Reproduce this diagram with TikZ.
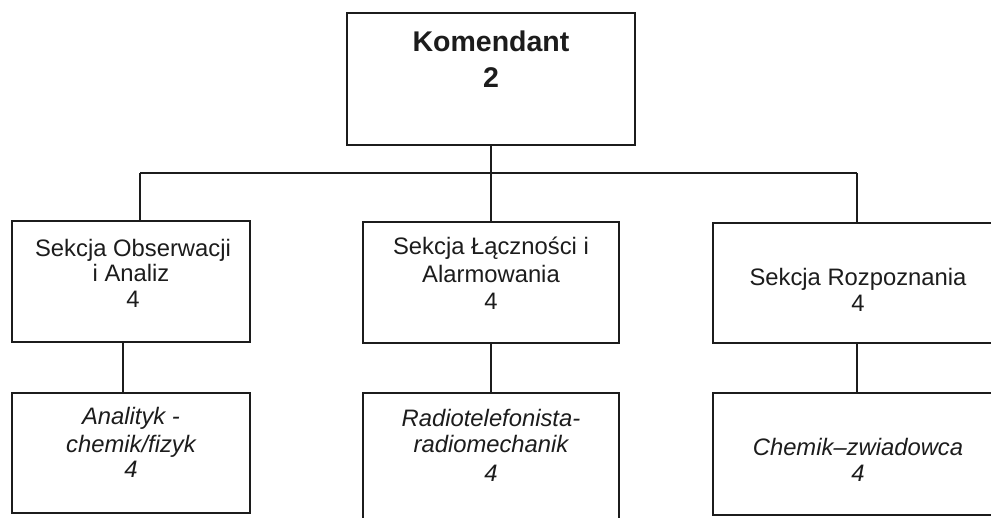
\documentclass[tikz,border=0pt]{standalone}
\usepackage{fontspec}
\setmainfont{Liberation Sans}
\definecolor{ink}{HTML}{1C1C1C}
\begin{document}
\begin{tikzpicture}[x=1pt,y=-1pt,
  box/.style={draw=ink,line width=1.2pt,rectangle,inner sep=0pt},
  line/.style={draw=ink,line width=1.2pt},
  txt/.style={anchor=base,inner sep=0pt,text=ink,font=\fontsize{23.8}{26}\selectfont},
  itxt/.style={txt,font=\fontsize{23.8}{26}\selectfont\itshape},
  btxt/.style={anchor=base,inner sep=0pt,text=ink,font=\fontsize{28.5}{32}\selectfont\bfseries}]
\clip (0,0) rectangle (991,518);
\fill[white] (0,0) rectangle (991,518);
% boxes
\node[box,minimum width=288pt,minimum height=132pt] (kom) at (491,79) {};
\node[box,minimum width=238pt,minimum height=121pt] (sa) at (131,281.5) {};
\node[box,minimum width=256pt,minimum height=121pt] (sl) at (491,282.5) {};
\node[box,minimum width=288pt,minimum height=120pt] (sr) at (857,283) {};
\node[box,minimum width=238pt,minimum height=120pt] (ba) at (131,453) {};
\node[box,minimum width=256pt,minimum height=137pt] (bl) at (491,461.5) {};
\node[box,minimum width=288pt,minimum height=122pt] (br) at (857,454) {};
% texts
\node[btxt] (t1) at (491,52) {Komendant};
\node[btxt] (t2) at (491,88) {2};
\node[txt] (a1) at (133,257) {Sekcja Obserwacji};
\node[txt] (a2) at (131,282) {i Analiz};
\node[txt] (a3) at (133,308) {4};
\node[txt] (l1) at (491,255) {Sekcja Łączności i};
\node[txt] (l2) at (491,283) {Alarmowania};
\node[txt] (l3) at (491,310) {4};
\node[txt] (r1) at (858,286) {Sekcja Rozpoznania};
\node[txt] (r2) at (858,312) {4};
\node[itxt] (aa1) at (131,425) {Analityk -};
\node[itxt] (aa2) at (131,453) {chemik/fizyk};
\node[itxt] (aa3) at (131,478) {4};
\node[itxt] (ll1) at (491,427) {Radiotelefonista-};
\node[itxt] (ll2) at (491,453) {radiomechanik};
\node[itxt] (ll3) at (491,482) {4};
\node[itxt] (rr1) at (858,456) {Chemik–zwiadowca};
\node[itxt] (rr2) at (858,482) {4};
% connectors
\coordinate (bw) at (140,173);
\coordinate (be) at (857,173);
\coordinate (bm) at (kom.south |- bw);
\draw[line] (kom.south) -- (bm);
\draw[line] (bw) -- (be);
\draw[line] (bw) -- (bw |- sa.north);
\draw[line] (bm) -- (bm |- sl.north);
\draw[line] (be) -- (be |- sr.north);
\draw[line] ([xshift=-8pt]sa.south) -- ([xshift=-8pt]ba.north);
\draw[line] (sl.south) -- (bl.north);
\draw[line] (sr.south) -- (br.north);
\end{tikzpicture}
\end{document}
